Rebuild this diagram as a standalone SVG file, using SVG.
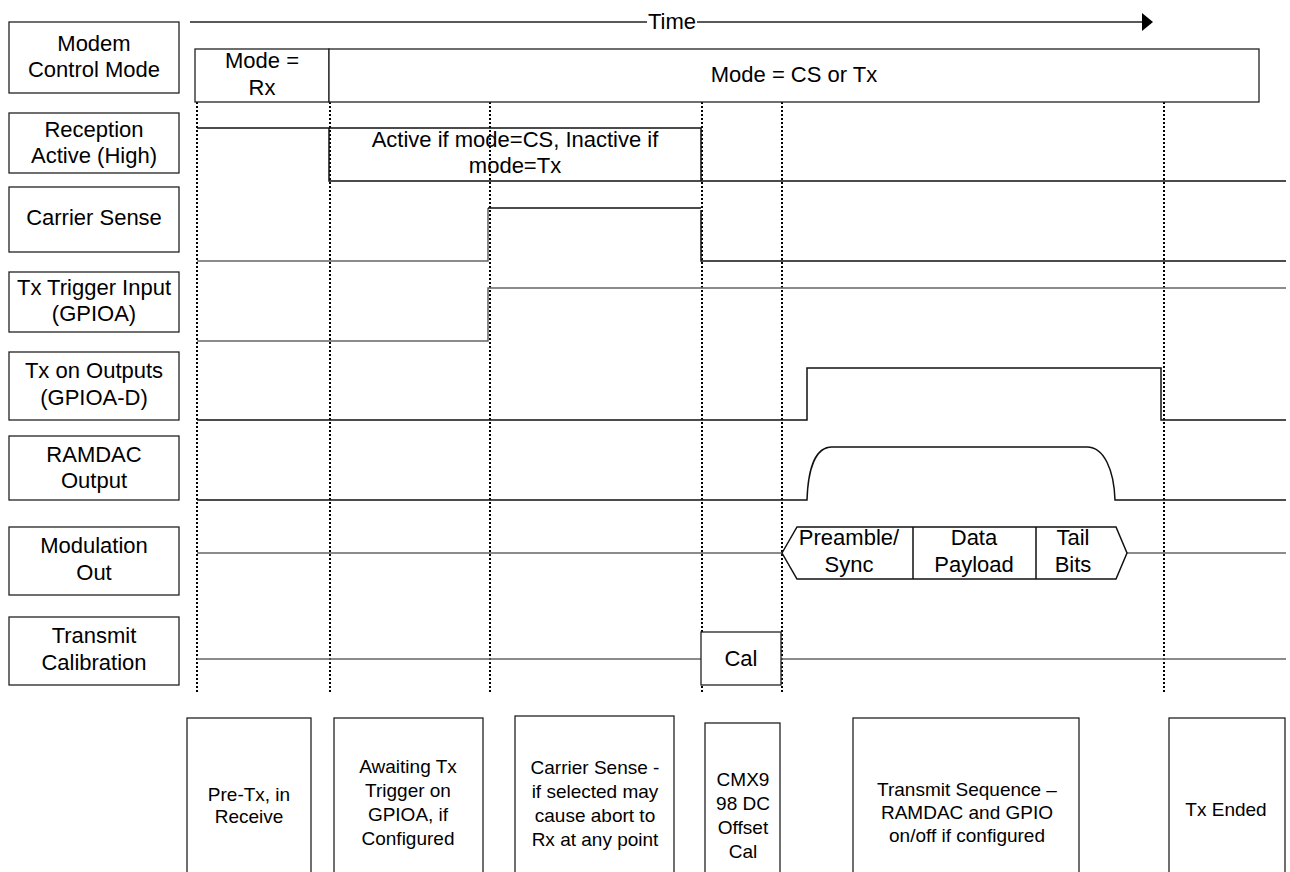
<svg xmlns="http://www.w3.org/2000/svg" width="1290" height="872" viewBox="0 0 1290 872">
<defs>
<style>
.box{fill:#fff;stroke:#222;stroke-width:1.3}
.t{font-family:"Liberation Sans",Arial,sans-serif;font-size:22px;fill:#000;text-anchor:middle}
.s{font-family:"Liberation Sans",Arial,sans-serif;font-size:19px;fill:#000;text-anchor:middle}
.sig{fill:none;stroke:#111;stroke-width:1.5}
.sigg{fill:none;stroke:#666;stroke-width:1.5}
.dot{stroke:#000;stroke-width:2;stroke-dasharray:2 2;fill:none}
</style>
</defs>
<rect width="1290" height="872" fill="#fff"/>

<!-- Left labels -->
<g id="lbl-modem"><rect class="box" x="9" y="22" width="170" height="71"/><text class="t" x="94" y="51">Modem</text><text class="t" x="94" y="77">Control Mode</text></g>
<g id="lbl-reception"><rect class="box" x="9" y="113" width="170" height="60"/><text class="t" x="94" y="137">Reception</text><text class="t" x="94" y="163">Active (High)</text></g>
<g id="lbl-carrier"><rect class="box" x="9" y="187" width="170" height="65"/><text class="t" x="94" y="225">Carrier Sense</text></g>
<g id="lbl-trigger"><rect class="box" x="9" y="272" width="170" height="60"/><text class="t" x="94" y="295">Tx Trigger Input</text><text class="t" x="94" y="321">(GPIOA)</text></g>
<g id="lbl-txout"><rect class="box" x="9" y="352" width="170" height="68"/><text class="t" x="94" y="378">Tx on Outputs</text><text class="t" x="94" y="405">(GPIOA-D)</text></g>
<g id="lbl-ramdac"><rect class="box" x="9" y="436" width="170" height="64"/><text class="t" x="94" y="462">RAMDAC</text><text class="t" x="94" y="488">Output</text></g>
<g id="lbl-mod"><rect class="box" x="9" y="527" width="170" height="68"/><text class="t" x="94" y="553">Modulation</text><text class="t" x="94" y="580">Out</text></g>
<g id="lbl-cal"><rect class="box" x="9" y="617" width="170" height="68"/><text class="t" x="94" y="643">Transmit</text><text class="t" x="94" y="670">Calibration</text></g>

<!-- Time axis -->
<g id="connectors">
<line x1="190" y1="22" x2="647" y2="22" stroke="#222" stroke-width="1.3"/>
<line x1="697" y1="22" x2="1143" y2="22" stroke="#222" stroke-width="1.3"/>
<polygon points="1142,13 1153,22 1142,31" fill="#000"/>
</g>
<g id="time-label"><text class="t" x="672" y="29">Time</text></g>

<!-- Dotted phase lines -->
<g id="phase-lines">
<line class="dot" x1="197" y1="102" x2="197" y2="694"/>
<line class="dot" x1="330" y1="102" x2="330" y2="694"/>
<line class="dot" x1="490" y1="102" x2="490" y2="694"/>
<line class="dot" x1="702" y1="102" x2="702" y2="694"/>
<line class="dot" x1="782" y1="102" x2="782" y2="694"/>
<line class="dot" x1="1164" y1="102" x2="1164" y2="694"/>
</g>

<!-- Mode boxes -->
<g id="mode-rx"><rect class="box" x="195" y="49" width="134" height="53"/><text class="t" x="262" y="68">Mode =</text><text class="t" x="262" y="95">Rx</text></g>
<g id="mode-cstx"><rect class="box" x="329" y="49" width="930" height="53"/><text class="t" x="794" y="82">Mode = CS or Tx</text></g>

<!-- Reception active -->
<g id="sig-reception">
<path class="sig" d="M197,128 H701 V181 M329,128 V181 H1286"/>
<text class="t" x="515" y="147">Active if mode=CS, Inactive if</text>
<text class="t" x="515" y="173">mode=Tx</text>
</g>

<!-- Carrier sense -->
<g id="sig-carrier">
<path class="sigg" d="M197,261 H488 V208"/>
<path class="sig" d="M488,208 H701 M701,210 V261 H1286"/>
</g>

<!-- Tx trigger -->
<g id="sig-trigger"><path class="sigg" d="M197,341 H488 V288 H1286"/></g>

<!-- Tx on outputs -->
<g id="sig-txout"><path class="sig" d="M197,420 H807 V368 H1161 V420 H1286"/></g>

<!-- RAMDAC -->
<g id="sig-ramdac"><path class="sig" d="M197,500 H807 C808,470 815,447 832,447 H1087 C1104,447 1114,470 1115,500 H1286"/></g>

<!-- Modulation -->
<g id="sig-mod">
<path class="sigg" d="M197,553 H782 M1127,553 H1286"/>
<path class="sig" d="M782,553 L797,527 H1116 L1127,553 L1116,579 H797 Z M913,527 V579 M1036,527 V579"/>
<text class="t" x="849" y="545">Preamble/</text><text class="t" x="849" y="572">Sync</text>
<text class="t" x="974" y="545">Data</text><text class="t" x="974" y="572">Payload</text>
<text class="t" x="1073" y="545">Tail</text><text class="t" x="1073" y="572">Bits</text>
</g>

<!-- Calibration -->
<g id="sig-cal">
<path class="sigg" d="M197,659 H701 M781,659 H1286"/>
<rect class="box" x="701" y="632" width="80" height="53"/>
<text class="t" x="741" y="666">Cal</text>
</g>

<!-- Bottom phase boxes -->
<g id="ph-pretx"><rect class="box" x="187" y="718" width="124" height="170"/><text class="s" x="249" y="801">Pre-Tx, in</text><text class="s" x="249" y="823">Receive</text></g>
<g id="ph-await"><rect class="box" x="334" y="718" width="149" height="170"/><text class="s" x="408" y="773">Awaiting Tx</text><text class="s" x="408" y="797">Trigger on</text><text class="s" x="408" y="821">GPIOA, if</text><text class="s" x="408" y="845">Configured</text></g>
<g id="ph-cs"><rect class="box" x="515" y="716" width="159" height="170"/><text class="s" x="595" y="774">Carrier Sense -</text><text class="s" x="595" y="798">if selected may</text><text class="s" x="595" y="822">cause abort to</text><text class="s" x="595" y="846">Rx at any point</text></g>
<g id="ph-cmx"><rect class="box" x="705" y="723" width="75" height="170"/><text class="s" x="743" y="786">CMX9</text><text class="s" x="743" y="810">98 DC</text><text class="s" x="743" y="834">Offset</text><text class="s" x="743" y="858">Cal</text></g>
<g id="ph-txseq"><rect class="box" x="853" y="718" width="226" height="170"/><text class="s" x="967" y="796">Transmit Sequence –</text><text class="s" x="967" y="819">RAMDAC and GPIO</text><text class="s" x="967" y="842">on/off if configured</text></g>
<g id="ph-end"><rect class="box" x="1169" y="718" width="116" height="170"/><text class="s" x="1226" y="816">Tx Ended</text></g>
</svg>
